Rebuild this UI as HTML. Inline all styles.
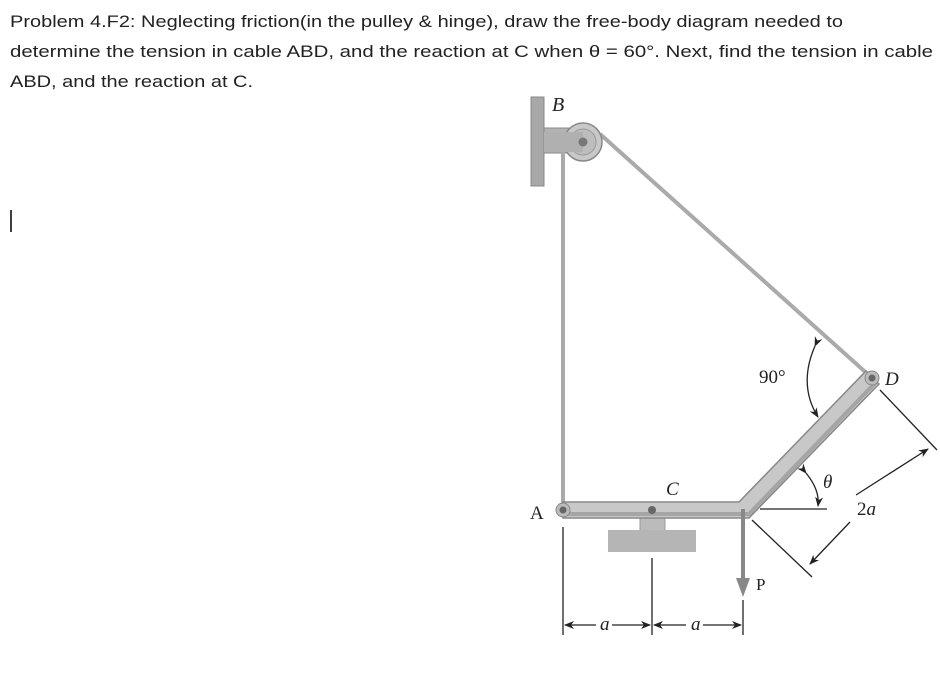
<!DOCTYPE html>
<html><head><meta charset="utf-8"><style>
body{margin:0;background:#fff;width:940px;height:685px;overflow:hidden}
svg{display:block}
</style></head><body>
<svg width="940" height="685" viewBox="0 0 940 685" xmlns="http://www.w3.org/2000/svg">
<defs>
<marker id="ah" markerWidth="10" markerHeight="8" refX="9" refY="4" orient="auto" markerUnits="userSpaceOnUse">
<path d="M0,0 L10,4 L0,8 L3,4 Z" fill="#222"/></marker>
</defs>
<g font-family="'Liberation Sans',sans-serif" font-size="17" fill="#222">
<text x="10" y="27" textLength="833" lengthAdjust="spacingAndGlyphs">Problem 4.F2: Neglecting friction(in the pulley &amp; hinge), draw the free-body diagram needed to</text>
<text x="10" y="57" textLength="923" lengthAdjust="spacingAndGlyphs">determine the tension in cable ABD, and the reaction at C when θ = 60°. Next, find the tension in cable</text>
<text x="10" y="87" textLength="243" lengthAdjust="spacingAndGlyphs">ABD, and the reaction at C.</text>
</g>
<line x1="11" y1="210" x2="11" y2="232" stroke="#000" stroke-width="1.5"/>
<!-- wall & bracket -->
<rect x="531" y="97" width="13" height="89" fill="#a8a8a8" stroke="#888"/>
<rect x="544" y="128" width="38" height="25" fill="#b3b3b3" stroke="#888"/>
<text x="552" y="111" font-family="'Liberation Serif',serif" font-style="italic" font-size="20" fill="#222">B</text>
<!-- cables -->
<line x1="563" y1="150" x2="563" y2="508" stroke="#aaa" stroke-width="4"/>
<line x1="600" y1="134" x2="872" y2="378" stroke="#aaa" stroke-width="4"/>
<!-- pulley -->
<circle cx="583" cy="142" r="19" fill="#c8c8c8" stroke="#888" stroke-width="1.5"/>
<circle cx="583" cy="142" r="13" fill="#bdbdbd" stroke="#999"/>
<rect x="544" y="132" width="39" height="20" fill="#b0b0b0"/>
<circle cx="583" cy="142" r="4.5" fill="#777"/>
<!-- pedestal -->
<rect x="640" y="518" width="25" height="13" fill="#bbb" stroke="#999"/>
<rect x="608" y="530" width="88" height="22" fill="#b5b5b5"/>
<!-- bar -->
<path d="M563,502 L739,502 L866,371 L879,384 L749,518 L563,518 Z" fill="#c8c8c8" stroke="#888" stroke-width="1.5"/>
<path d="M563,514 L749,514 L876,382" fill="none" stroke="#a5a5a5" stroke-width="4"/>
<circle cx="563" cy="510" r="7" fill="#bbb" stroke="#888"/>
<circle cx="563" cy="510" r="3.5" fill="#666"/>
<circle cx="652" cy="510" r="4" fill="#666"/>
<circle cx="872" cy="378" r="7" fill="#bbb" stroke="#888"/>
<circle cx="872" cy="378" r="3.5" fill="#666"/>
<!-- P -->
<line x1="743" y1="509" x2="743" y2="582" stroke="#888" stroke-width="4"/>
<path d="M736,578 L750,578 L743,597 Z" fill="#888"/>
<text x="756" y="590" font-family="'Liberation Serif',serif" font-size="17" fill="#222">P</text>
<g font-family="'Liberation Serif',serif" font-size="19" fill="#222">
<text x="530" y="519">A</text>
<text x="666" y="495" font-style="italic">C</text>
<text x="885" y="385" font-style="italic">D</text>
<text x="759" y="383">90°</text>
<text x="823" y="488" font-style="italic">θ</text>
<text x="857" y="515">2<tspan font-style="italic">a</tspan></text>
<text x="600" y="630" font-style="italic">a</text>
<text x="691" y="630" font-style="italic">a</text>
</g>
<!-- angle arcs -->
<path d="M815,346 Q798,385 818,417" fill="none" stroke="#222" stroke-width="1.3" marker-start="url(#ah)" marker-end="url(#ah)"/>
<path d="M806,473 Q820,490 818,506" fill="none" stroke="#222" stroke-width="1.3" marker-start="url(#ah)" marker-end="url(#ah)"/>
<line x1="760" y1="509" x2="827" y2="509" stroke="#222" stroke-width="1.3"/>
<!-- 2a dimension -->
<line x1="880" y1="390" x2="937" y2="450" stroke="#222" stroke-width="1.3"/>
<line x1="752" y1="520" x2="812" y2="577" stroke="#222" stroke-width="1.3"/>
<line x1="856" y1="495" x2="928" y2="449" stroke="#222" stroke-width="1.3" marker-end="url(#ah)"/>
<line x1="850" y1="522" x2="810" y2="564" stroke="#222" stroke-width="1.3" marker-end="url(#ah)"/>
<!-- bottom dims -->
<g stroke="#222" stroke-width="1.3">
<line x1="563" y1="527" x2="563" y2="635"/>
<line x1="652" y1="558" x2="652" y2="635"/>
<line x1="743" y1="600" x2="743" y2="635"/>
<line x1="596" y1="625" x2="565" y2="625" marker-end="url(#ah)"/>
<line x1="612" y1="625" x2="650" y2="625" marker-end="url(#ah)"/>
<line x1="686" y1="625" x2="654" y2="625" marker-end="url(#ah)"/>
<line x1="703" y1="625" x2="741" y2="625" marker-end="url(#ah)"/>
</g>
</svg>
</body></html>
